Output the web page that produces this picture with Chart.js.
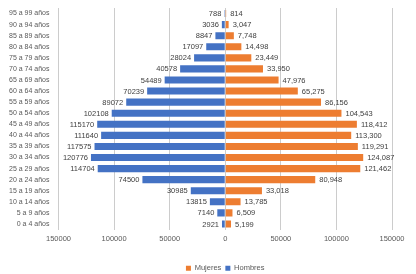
<!DOCTYPE html>
<html>
<head>
<meta charset="utf-8">
<script src="https://cdn.jsdelivr.net/npm/chart.js@4/dist/chart.umd.min.js"></script>
<style>
	html, body { margin: 0; padding: 0; background: #fff; }
	#wrap { width: 416px; height: 274px; }
</style>
</head>
<body>
<div id="wrap"><canvas id="pyramid"></canvas></div>
<script>
// data, bottom row first
var ageGroups = ["0 a 4 años", "5 a 9 años", "10 a 14 años", "15 a 19 años", "20 a 24 años",
	"25 a 29 años", "30 a 34 años", "35 a 39 años", "40 a 44 años", "45 a 49 años",
	"50 a 54 años", "55 a 59 años", "60 a 64 años", "65 a 69 años", "70 a 74 años",
	"75 a 79 años", "80 a 84 años", "85 a 89 años", "90 a 94 años", "95 a 99 años"];
var hombres = [2921, 7140, 13815, 30985, 74500, 114704, 120776, 117575, 111640, 115170,
	102108, 89072, 70239, 54489, 40578, 28024, 17097, 8847, 3036, 788];
var mujeres = [5199, 6509, 13785, 33018, 80948, 121462, 124087, 119291, 113300, 118412,
	104543, 86156, 65275, 47976, 33950, 23449, 14498, 7748, 3047, 814];
var xMin = -150000, xMax = 150000, xStep = 50000;

var FONT = "'Liberation Sans', Arial, sans-serif";

// value labels at the bar ends
var barLabels = {
	id: "barLabels",
	afterDatasetsDraw: function(chart) {
		var ctx = chart.ctx;
		ctx.save();
		ctx.font = "7.5px " + FONT;
		ctx.fillStyle = "#404040";
		ctx.textBaseline = "middle";
		chart.data.datasets.forEach((ds, di) => {
			var meta = chart.getDatasetMeta(di);
			meta.data.forEach((bar, i) => {
				var v = ds.raw[i];
				if (ds.side == "left") {
					ctx.textAlign = "right";
					ctx.fillText(String(v), bar.x - 3, bar.y + 0.5);
				} else {
					ctx.textAlign = "left";
					ctx.fillText(v.toLocaleString("en-US"), bar.x + 4, bar.y + 0.5);
				}
			});
		});
		ctx.restore();
	}
};

var ctx = document.getElementById("pyramid").getContext("2d");
new Chart(ctx, {
	type: "bar",
	data: {
		labels: ageGroups,
		datasets: [
			{
				label: "Mujeres",
				side: "right",
				raw: mujeres,
				data: mujeres,
				backgroundColor: "#ED7D31",
				barPercentage: 0.64,
				categoryPercentage: 1
			},
			{
				label: "Hombres",
				side: "left",
				raw: hombres,
				data: hombres.map(v => -v),
				backgroundColor: "#4472C4",
				barPercentage: 0.64,
				categoryPercentage: 1
			}
		]
	},
	options: {
		indexAxis: "y",
		responsive: true,
		maintainAspectRatio: false,
		animation: false,
		layout: { padding: { top: 8, left: 0, right: 24, bottom: -8 } },
		plugins: {
			legend: {
				position: "bottom",
				fullSize: false,
				labels: {
					boxWidth: 5,
					boxHeight: 5,
					padding: 4,
					color: "#595959",
					font: { family: FONT, size: 7.5 }
				}
			},
			tooltip: { enabled: false }
		},
		scales: {
			x: {
				stacked: true,
				min: xMin,
				max: xMax,
				afterFit: function(scale) {
					scale.height += 12;
				},
				grid: { color: "#cccccc", lineWidth: 1, drawTicks: false },
				border: { display: false },
				ticks: {
					stepSize: xStep,
					padding: 5,
					color: "#595959",
					font: { family: FONT, size: 7.5 },
					callback: v => String(Math.abs(v))
				}
			},
			y: {
				stacked: true,
				reverse: true,
				afterFit: function(scale) {
					// no extra room above/below the rows
					scale.paddingTop = 0;
					scale.paddingBottom = 0;
				},
				grid: { display: false, drawTicks: false },
				border: { display: false },
				ticks: {
					padding: 9,
					autoSkip: false,
					color: "#595959",
					font: { family: FONT, size: 7 }
				}
			}
		}
	},
	plugins: [barLabels]
});
</script>
</body>
</html>
